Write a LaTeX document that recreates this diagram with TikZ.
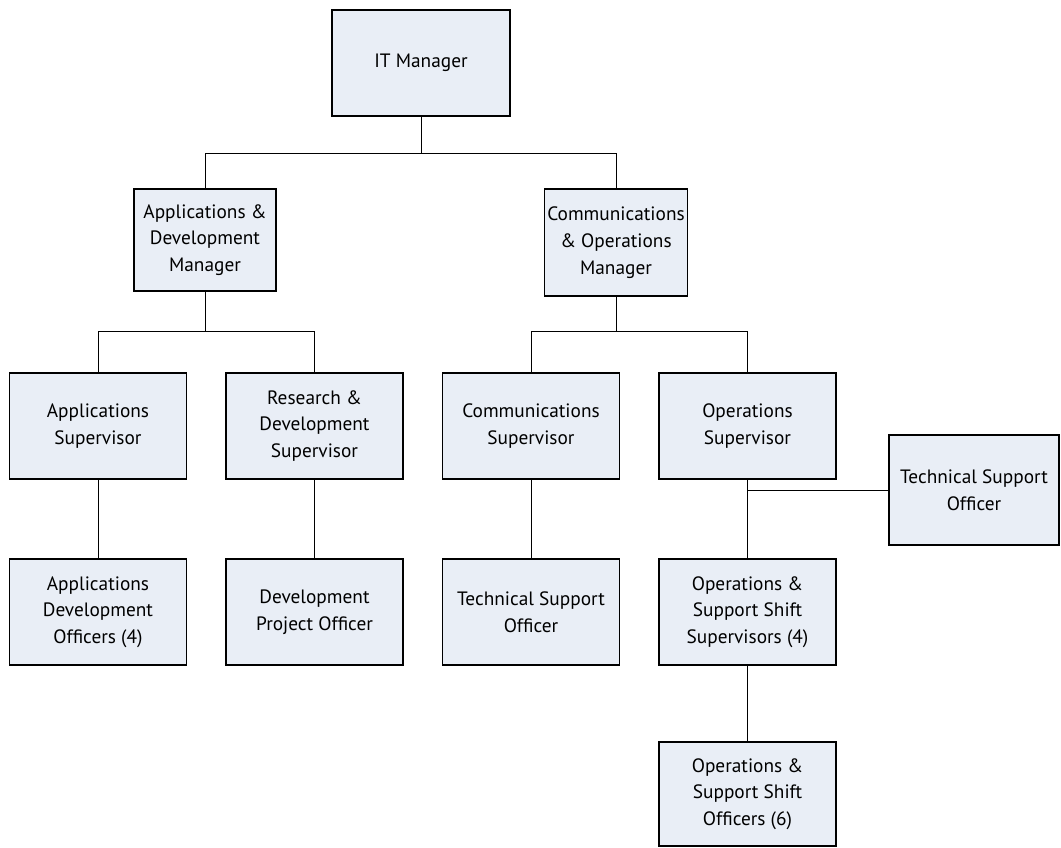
\documentclass[tikz,border=0pt]{standalone}
\usepackage{fontspec}
\setmainfont{PT Sans}
\definecolor{boxfill}{HTML}{E9EEF6}
\begin{document}
\begin{tikzpicture}[x=0.75pt,y=-0.75pt,
  box/.style={draw=black, line width=0.8pt, fill=boxfill, minimum width=177*0.75pt, minimum height=106*0.75pt, inner sep=2pt, align=center, font=\fontsize{14.5}{20}\selectfont},
  mgr/.style={box, minimum width=142*0.75pt, minimum height=102*0.75pt},
  conn/.style={draw=black, line width=0.75pt}]
\useasboundingbox (0,0) rectangle (1061,847);
\node[box, minimum width=178*0.75pt] (it) at (421,63) {IT Manager};
\node[mgr] (adm) at (205,240) {Applications \&\\Development\\Manager};
\node[mgr, minimum height=107*0.75pt] (com) at (616,242.5) {Communications\\\& Operations\\Manager};
\node[box] (as) at (98,426) {Applications\\Supervisor};
\node[box] (rds) at (314.5,426) {Research \&\\Development\\Supervisor};
\node[box] (cs) at (531,426) {Communications\\Supervisor};
\node[box] (os) at (747.5,426) {Operations\\Supervisor};
\node[box, minimum width=170*0.75pt, minimum height=110*0.75pt] (tsr) at (974,490) {Technical Support\\Officer};
\node[box] (ado) at (98,612) {Applications\\Development\\Officers (4)};
\node[box] (dpo) at (314.5,612) {Development\\Project Officer};
\node[box] (tso) at (531,612) {Technical Support\\Officer};
\node[box] (oss) at (747.5,612) {Operations \&\\Support Shift\\Supervisors (4)};
\node[box, minimum height=104*0.75pt] (oso) at (747.5,794) {Operations \&\\Support Shift\\Officers (6)};
\coordinate (j1) at (421,153);
\coordinate (j2) at (205,331);
\coordinate (j3) at (616,331);
\coordinate (j4) at (747.5,490);
\draw[conn] (it.south) -- (j1);
\draw[conn] (j1) -| (adm.north);
\draw[conn] (j1) -| (com.north);
\draw[conn] (adm.south) -- (j2);
\draw[conn] (j2) -| (as.north);
\draw[conn] (j2) -| (rds.north);
\draw[conn] (com.south) -- (j3);
\draw[conn] (j3) -| (cs.north);
\draw[conn] (j3) -| (os.north);
\draw[conn] (as.south) -- (ado.north);
\draw[conn] (rds.south) -- (dpo.north);
\draw[conn] (cs.south) -- (tso.north);
\draw[conn] (os.south) -- (oss.north);
\draw[conn] (j4) -- (tsr.west);
\draw[conn] (oss.south) -- (oso.north);
\end{tikzpicture}
\end{document}
